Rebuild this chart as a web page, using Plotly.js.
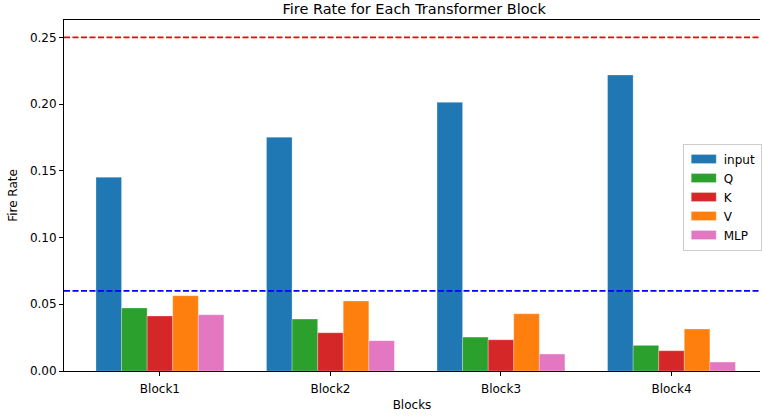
<!DOCTYPE html>
<html>
<head>
<meta charset="utf-8">
<script src="https://cdn.plot.ly/plotly-3.0.1.min.js"></script>
<style>html,body{margin:0;padding:0;background:#fff;}#chart{width:762px;height:418px;}</style>
</head>
<body>
<div id="chart"></div>
<script>
const blocks = ["Block1", "Block2", "Block3", "Block4"];
const seriesNames = ["input", "Q", "K", "V", "MLP"];
const inputVals = [0.1452, 0.1752, 0.2013, 0.2218];
const qVals = [0.0472, 0.0389, 0.0254, 0.0192];
const kVals = [0.0412, 0.0287, 0.0234, 0.0152];
const vVals = [0.0564, 0.0524, 0.0429, 0.0314];
const mlpVals = [0.0421, 0.0227, 0.0127, 0.0067];
const thresholdHigh = 0.25;
const thresholdLow = 0.06;

const colors = ["#1f77b4", "#2ca02c", "#d62728", "#ff7f0e", "#e377c2"];
const allVals = [inputVals, qVals, kVals, vVals, mlpVals];
const barW = 0.15;
const font = "DejaVu Sans, sans-serif";

const traces = allVals.map((vals, i) => ({
  type: "bar",
  name: seriesNames[i],
  x: blocks.map((b, j) => j),
  y: vals,
  width: barW,
  offset: -2.5 * barW + i * barW,
  marker: {color: colors[i], line: {color: "rgba(255,255,255,0.35)", width: 0.8}},
  hoverinfo: "y"
}));

const layout = {
  width: 762, height: 418,
  margin: {l: 64, r: 0, t: 20, b: 47},
  paper_bgcolor: "#fff", plot_bgcolor: "#fff",
  barmode: "overlay",
  title: {text: "Fire Rate for Each Transformer Block", font: {family: font, size: 14.5, color: "#000"}, x: 0.5436, xanchor: "center", y: 0.979, yanchor: "middle"},
  xaxis: {
    range: [-0.5625, 3.519],
    tickvals: [0, 1, 2, 3], ticktext: blocks,
    showline: true, linecolor: "#000", linewidth: 1, mirror: true,
    ticks: "outside", ticklen: 4, tickcolor: "#000",
    ticklabelstandoff: 3,
    showgrid: false, zeroline: false,
    tickfont: {family: font, size: 12, color: "#000"},
    title: {text: "Blocks", font: {family: font, size: 12, color: "#000"}, standoff: 5}
  },
  yaxis: {
    range: [0, 0.263],
    tickvals: [0, 0.05, 0.10, 0.15, 0.20, 0.25],
    tickformat: ".2f",
    showline: true, linecolor: "#000", linewidth: 1,
    ticks: "outside", ticklen: 4, tickcolor: "#000",
    showgrid: false, zeroline: false,
    tickfont: {family: font, size: 12, color: "#000"},
    title: {text: "Fire Rate", font: {family: font, size: 12, color: "#000"}, standoff: 9}
  },
  shapes: [
    {type: "line", xref: "paper", x0: 0, x1: 1, yref: "y", y0: thresholdHigh, y1: thresholdHigh, line: {color: "red", width: 1.6, dash: "6px,2.5px"}},
    {type: "line", xref: "paper", x0: 0, x1: 1, yref: "y", y0: thresholdLow, y1: thresholdLow, line: {color: "blue", width: 1.6, dash: "6px,2.5px"}}
  ],
  legend: {
    x: 0.889, y: 0.648, xanchor: "left", yanchor: "top",
    bgcolor: "rgba(255,255,255,0.8)", bordercolor: "#cccccc", borderwidth: 1,
    font: {family: font, size: 12, color: "#000"},
    tracegroupgap: 0, itemwidth: 30
  },
  showlegend: true
};

Plotly.newPlot("chart", traces, layout, {displayModeBar: false, staticPlot: true}).then(gd => {
  gd.querySelectorAll(".legend .legendpoints path").forEach(p => {
    p.setAttribute("d", "M-12.5,-4.5H12.5V4.5H-12.5Z");
    p.style.strokeWidth = "0.8px";
  });
});
</script>
</body>
</html>
